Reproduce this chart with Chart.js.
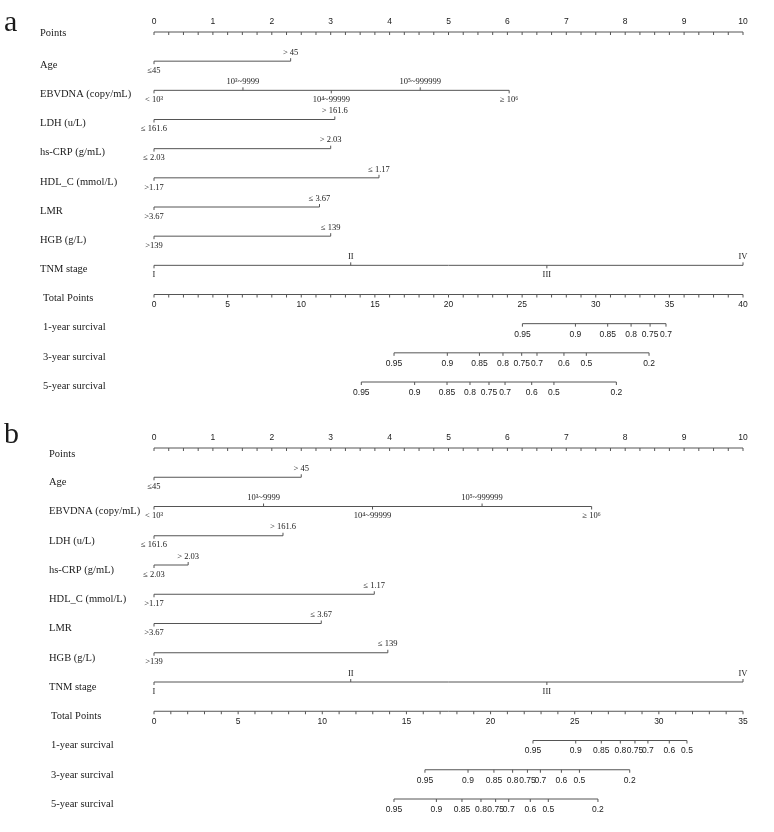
<!DOCTYPE html>
<html>
<head>
<meta charset="utf-8">
<script src="https://cdn.jsdelivr.net/npm/chart.js@4.4.1/dist/chart.umd.min.js"></script>
<style>
  html, body { margin: 0; padding: 0; background: #fff; }
  canvas { display: block; }
</style>
</head>
<body>
<canvas id="nomoA" width="774" height="416"></canvas>
<canvas id="nomoB" width="774" height="416"></canvas>
<script>
// ---- row names ----
const rowNames = ["Points", "Age", "EBVDNA (copy/mL)", "LDH (u/L)", "hs-CRP (g/mL)",
  "HDL_C (mmol/L)", "LMR", "HGB (g/L)", "TNM stage", "Total Points",
  "1-year surcival", "3-year surcival", "5-year surcival"];

// ---- level labels ----
const ageLevels = ["≤45", "> 45"];
const ebvLevels = ["< 10³", "10³~9999", "10⁴~99999", "10⁵~999999", "≥ 10⁶"];
const ldhLevels = ["≤ 161.6", "> 161.6"];
const crpLevels = ["≤ 2.03", "> 2.03"];
const hdlLevels = [">1.17", "≤ 1.17"];
const lmrLevels = [">3.67", "≤ 3.67"];
const hgbLevels = [">139", "≤ 139"];
const tnmLevels = ["I", "II", "III", "IV"];

// ---- points per level, panel a ----
const agePtsA = [0, 2.32];
const ebvPtsA = [0, 1.51, 3.01, 4.52, 6.03];
const ldhPtsA = [0, 3.07];
const crpPtsA = [0, 3.00];
const hdlPtsA = [0, 3.82];
const lmrPtsA = [0, 2.81];
const hgbPtsA = [0, 3.00];
const tnmPtsA = [0, 3.34, 6.67, 10];

// ---- points per level, panel b ----
const agePtsB = [0, 2.50];
const ebvPtsB = [0, 1.86, 3.71, 5.57, 7.43];
const ldhPtsB = [0, 2.19];
const crpPtsB = [0, 0.58];
const hdlPtsB = [0, 3.74];
const lmrPtsB = [0, 2.84];
const hgbPtsB = [0, 3.97];
const tnmPtsB = [0, 3.34, 6.67, 10];

// ---- total points scales ----
const pointTicks = [0, 1, 2, 3, 4, 5, 6, 7, 8, 9, 10];
const totalMaxA = 40;
const totalMaxB = 35;

// ---- survival scales (label -> total points) ----
const surv1Labels = ["0.95", "0.9", "0.85", "0.8", "0.75", "0.7"];
const surv1LabelsB = ["0.95", "0.9", "0.85", "0.8", "0.75", "0.7", "0.6", "0.5"];
const surv35Labels = ["0.95", "0.9", "0.85", "0.8", "0.75", "0.7", "0.6", "0.5", "0.2"];
const surv1A = [25.02, 28.62, 30.81, 32.40, 33.69, 34.77];
const surv3A = [16.30, 19.92, 22.10, 23.70, 24.97, 26.01, 27.84, 29.36, 33.62];
const surv5A = [14.08, 17.70, 19.90, 21.46, 22.75, 23.84, 25.65, 27.16, 31.40];
const surv1B = [22.52, 25.06, 26.58, 27.71, 28.58, 29.35, 30.62, 31.67];
const surv3B = [16.10, 18.66, 20.20, 21.31, 22.19, 22.96, 24.21, 25.28, 28.27];
const surv5B = [14.26, 16.78, 18.30, 19.43, 20.30, 21.08, 22.36, 23.43, 26.38];

const LINE = "#555";
const TEXT = "#1a1a1a";
const rowFont = "10.5px 'Liberation Serif', serif";
const levelFont = "8.5px 'Liberation Serif', serif";
const numFont = "8.5px 'Liberation Sans', Arial, sans-serif";

function makePanel(id, p) {
  const vars = [
    [p.age, ageLevels], [p.ebv, ebvLevels], [p.ldh, ldhLevels], [p.crp, crpLevels],
    [p.hdl, hdlLevels], [p.lmr, lmrLevels], [p.hgb, hgbLevels], [p.tnm, tnmLevels]
  ];
  const toPts = (t) => t * 10 / p.totalMax;
  const surv = [[p.s1, p.s1Labels], [p.s3, surv35Labels], [p.s5, surv35Labels]];

  // one line dataset per row
  const seg = (a, b, r) => [{ x: a, y: r }, { x: b, y: r }];
  const rows = [seg(0, 10, 0)];
  vars.forEach((v, i) => rows.push(seg(v[0][0], v[0][v[0].length - 1], i + 1)));
  rows.push(seg(0, 10, 9));
  surv.forEach((s, i) => rows.push(seg(toPts(s[0][0]), toPts(s[0][s[0].length - 1]), 10 + i)));

  const datasets = rows.map((d) => ({
    data: d, showLine: true, pointRadius: 0, borderColor: LINE, borderWidth: 1, clip: false
  }));

  const plugin = {
    id: "nomo" + id,
    afterDatasetsDraw(chart) {
      const ctx = chart.ctx;
      const xs = chart.scales.x, ys = chart.scales.y;
      const X = (v) => xs.getPixelForValue(v);
      const Y = (r) => ys.getPixelForValue(r);
      ctx.save();
      ctx.strokeStyle = LINE;
      ctx.fillStyle = TEXT;
      ctx.lineWidth = 1;
      const tick = (px, py, len) => {
        ctx.beginPath(); ctx.moveTo(px, py); ctx.lineTo(px, py + len); ctx.stroke();
      };
      const text = (s, px, py, font, align) => {
        ctx.font = font; ctx.textAlign = align; ctx.textBaseline = "middle";
        ctx.fillText(s, px, py);
      };

      // panel letter
      ctx.font = "30px 'Liberation Serif', serif";
      ctx.textAlign = "left"; ctx.textBaseline = "alphabetic";
      ctx.fillText(p.letter, 4, p.letterY);

      // row names
      rowNames.forEach((n, r) => {
        const off = r === 0 ? p.pointsOff : p.labelOff;
        text(n, r < 9 ? p.nameX : p.nameX2, Y(r) + off, rowFont, "left");
      });

      // Points axis
      const y0 = Y(0);
      for (let v = 0; v <= 10.001; v += 0.25) tick(X(v), y0, 3);
      pointTicks.forEach((v) => text(String(v), X(v), y0 - 10, numFont, "center"));

      // variable rows
      vars.forEach((v, i) => {
        const yr = Y(i + 1);
        v[0].forEach((pt, k) => {
          const above = k % 2 === 1;
          tick(X(pt), yr, above ? -3 : 3);
          text(v[1][k], X(pt), yr + (above ? -8.5 : 9.5), levelFont, "center");
        });
      });

      // Total Points axis
      const y9 = Y(9);
      for (let t = 0; t <= p.totalMax; t++) tick(X(toPts(t)), y9, 3);
      for (let t = 0; t <= p.totalMax; t += 5) text(String(t), X(toPts(t)), y9 + 10, numFont, "center");

      // survival axes
      surv.forEach((s, i) => {
        const yr = Y(10 + i);
        s[0].forEach((t, k) => {
          tick(X(toPts(t)), yr, 3);
          text(s[1][k], X(toPts(t)), yr + 10.5, numFont, "center");
        });
      });
      ctx.restore();
    }
  };

  return new Chart(document.getElementById(id), {
    type: "scatter",
    data: { datasets },
    options: {
      responsive: false,
      animation: false,
      layout: { padding: { left: 154, right: 31, top: 32, bottom: p.bottom } },
      plugins: { legend: { display: false }, tooltip: { enabled: false } },
      scales: {
        x: { type: "linear", min: 0, max: 10, display: false },
        y: { type: "linear", min: 0, max: 12, reverse: true, display: false }
      }
    },
    plugins: [plugin]
  });
}

makePanel("nomoA", {
  letter: "a", letterY: 31, nameX: 40, nameX2: 43, labelOff: 4, pointsOff: 1, bottom: 34,
  age: agePtsA, ebv: ebvPtsA, ldh: ldhPtsA, crp: crpPtsA, hdl: hdlPtsA, lmr: lmrPtsA, hgb: hgbPtsA, tnm: tnmPtsA,
  totalMax: totalMaxA, s1: surv1A, s1Labels: surv1Labels, s3: surv3A, s5: surv5A
});

makePanel("nomoB", {
  letter: "b", letterY: 27, nameX: 49, nameX2: 51, labelOff: 5, pointsOff: 6, bottom: 33,
  age: agePtsB, ebv: ebvPtsB, ldh: ldhPtsB, crp: crpPtsB, hdl: hdlPtsB, lmr: lmrPtsB, hgb: hgbPtsB, tnm: tnmPtsB,
  totalMax: totalMaxB, s1: surv1B, s1Labels: surv1LabelsB, s3: surv3B, s5: surv5B
});
</script>
</body>
</html>
